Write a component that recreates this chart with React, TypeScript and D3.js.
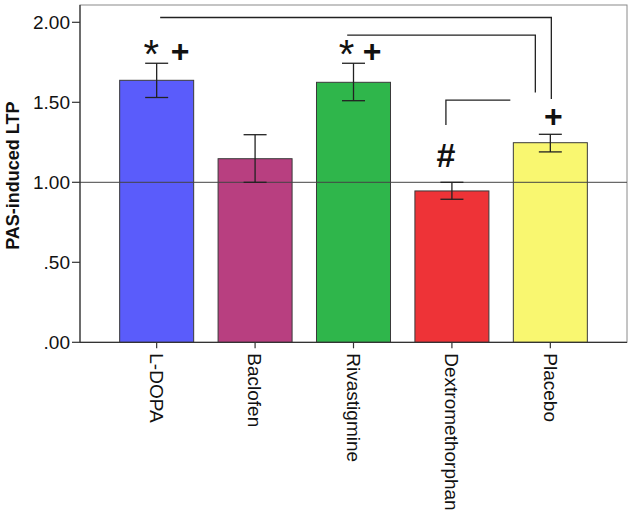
import React from "react";
import * as d3 from "d3";

const categories = ["L-DOPA", "Baclofen", "Rivastigmine", "Dextromethorphan", "Placebo"];
const means = [1.6375, 1.1475, 1.625, 0.946, 1.2475];
const errLow = [1.53, 1.0, 1.51, 0.894, 1.19];
const errHigh = [1.744, 1.2975, 1.744, 1.0, 1.30];
const colors = ["#5a5cfb", "#b83f80", "#2fb64b", "#ee3337", "#f9f770"];
const yTicks = [0, 0.5, 1.0, 1.5, 2.0];
const yTickLabels = [".00", ".50", "1.00", "1.50", "2.00"];
const annotations = ["* +", "", "* +", "#", "+"];

const W = 638, H = 516;
const left = 80, right = 627, top = 5, bottom = 342.3;

export default function App() {
  const y = d3.scaleLinear().domain([0, 2]).range([bottom, bottom - 320]);
  const x = d3.scaleBand<string>().domain(categories).range([left, right]).paddingInner(0.248).paddingOuter(0.403);
  const bw = x.bandwidth();
  const cx = (c: string) => (x(c) as number) + bw / 2;
  const font = "'Liberation Sans', Arial, Helvetica, sans-serif";

  const b1y = y(2.03), b2y = y(1.92);
  const b1x0 = cx("L-DOPA") + 3.5, b1x1 = cx("Placebo") + 1;
  const b2x0 = cx("Rivastigmine") - 6.3, b2x1 = cx("Placebo") - 15;
  const b3x0 = cx("Dextromethorphan") - 6, b3x1 = cx("Placebo") - 40;

  const starDx = [-5.5, 0, -7, 0, 0];
  const plusDx = [23.5, 0, 18.7, 0, 3];

  return (
    <svg width={W} height={H} style={{ position: "absolute", left: 0, top: 0, background: "#fff" }}>
      <rect x={left} y={top} width={right - left} height={bottom - top} fill="#fff" stroke="#8a8a8a" strokeWidth={1} />
      {categories.map((c, i) => (
        <rect key={c} x={x(c)} y={y(means[i])} width={bw} height={bottom - y(means[i])}
          fill={colors[i]} stroke="#3a3a3a" strokeWidth={1} />
      ))}
      <line x1={left} x2={right} y1={y(1)} y2={y(1)} stroke="#444" strokeWidth={1} />
      {categories.map((c, i) => {
        const xc = cx(c);
        return (
          <g key={c} stroke="#222" strokeWidth={1.3}>
            <line x1={xc} x2={xc} y1={y(errHigh[i])} y2={y(errLow[i])} />
            <line x1={xc - 11.5} x2={xc + 11.5} y1={y(errHigh[i])} y2={y(errHigh[i])} />
            <line x1={xc - 11.5} x2={xc + 11.5} y1={y(errLow[i])} y2={y(errLow[i])} />
          </g>
        );
      })}
      <line x1={left} x2={left} y1={top} y2={bottom} stroke="#333" strokeWidth={1.2} />
      <line x1={left} x2={right} y1={bottom} y2={bottom} stroke="#333" strokeWidth={1.2} />
      {yTicks.map((t, i) => (
        <g key={t}>
          <line x1={left - 8} x2={left} y1={y(t)} y2={y(t)} stroke="#333" strokeWidth={1.2} />
          <text x={70} y={y(t)} dy="0.35em" textAnchor="end" fontFamily={font} fontSize={19} fill="#111">{yTickLabels[i]}</text>
        </g>
      ))}
      {categories.map((c) => (
        <g key={c}>
          <line x1={cx(c)} x2={cx(c)} y1={bottom} y2={bottom + 6} stroke="#333" strokeWidth={1.2} />
          <text transform={`translate(${cx(c)},${bottom + 11}) rotate(90)`} dy="0.35em" textAnchor="start"
            fontFamily={font} fontSize={19} fill="#111">{c}</text>
        </g>
      ))}
      <text transform={`translate(13,${(top + bottom) / 2 + 2}) rotate(-90)`} dy="0.35em" textAnchor="middle"
        fontFamily={font} fontSize={18} fontWeight="bold" fill="#111">PAS-induced LTP</text>
      <g stroke="#222" strokeWidth={1.3} fill="none">
        <polyline points={`${b1x0},${b1y} ${b1x1},${b1y} ${b1x1},${y(1.52)}`} />
        <polyline points={`${b2x0},${b2y} ${b2x1},${b2y} ${b2x1},${y(1.562)}`} />
        <polyline points={`${b3x0},${y(1.358)} ${b3x0},${y(1.514)} ${b3x1},${y(1.514)}`} />
      </g>
      {categories.map((c, i) => {
        const a = annotations[i];
        if (!a) return null;
        if (a === "* +") {
          return (
            <g key={c} fontFamily={font} fill="#111">
              <text x={cx(c) + starDx[i]} y={68} textAnchor="middle" fontSize={40}>*</text>
              <text x={cx(c) + plusDx[i]} y={61.5} textAnchor="middle" fontSize={32} fontWeight="bold">+</text>
            </g>
          );
        }
        if (a === "#") {
          return (
            <text key={c} x={cx(c) - 6} y={167} textAnchor="middle" fontFamily={font} fontSize={34} fontWeight="bold" fill="#111">#</text>
          );
        }
        return (
          <text key={c} x={cx(c) + plusDx[i]} y={127} textAnchor="middle" fontFamily={font} fontSize={32} fontWeight="bold" fill="#111">{a}</text>
        );
      })}
    </svg>
  );
}
